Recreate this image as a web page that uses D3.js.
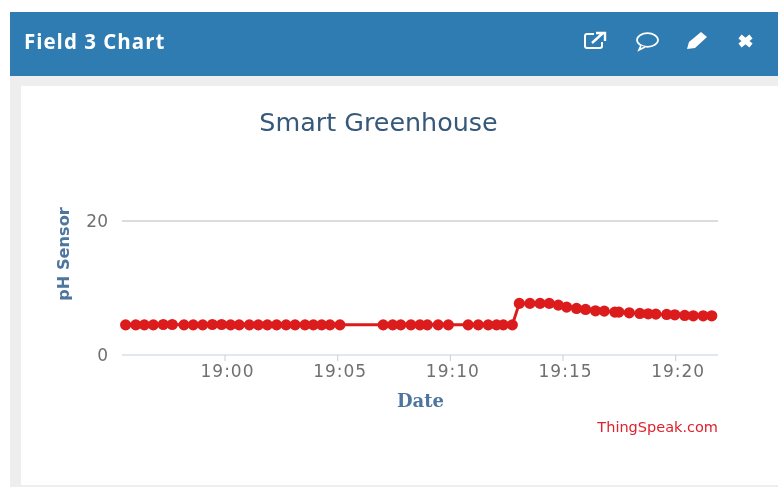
<!DOCTYPE html>
<html><head><meta charset="utf-8">
<script src="https://cdn.jsdelivr.net/npm/d3@7"></script>
<style>html,body{margin:0;padding:0;background:#fff;overflow:hidden}svg{display:block;filter:blur(0.4px)}</style>
</head><body><svg id="c" width="778" height="487"></svg>
<script>
const panelTitle = "Field 3 Chart";
const chartTitle = "Smart Greenhouse";
const xTitle = "Date";
const yTitle = "pH Sensor";
const credit = "ThingSpeak.com";
const yTicks = [0, 20];
const xTickMinutes = [0, 5, 10, 15, 20];
const xTickLabels = ["19:00", "19:05", "19:10", "19:15", "19:20"];
// minutes relative to 19:00
const minutes = [-4.41,-3.96,-3.58,-3.18,-2.74,-2.34,-1.82,-1.41,-0.99,-0.56,-0.15,0.25,0.63,1.08,1.48,1.88,2.29,2.71,3.11,3.55,3.92,4.29,4.66,5.10,
 7.02,7.44,7.8,8.25,8.65,8.98,9.46,9.91,10.79,11.24,11.68,12.05,12.35,12.75,13.06,13.53,13.98,14.39,14.79,15.16,15.6,16.0,16.44,16.83,17.3,17.48,17.94,18.41,18.78,19.12,19.6,19.96,20.4,20.78,21.22,21.6];
const ph = [4.5,4.5,4.5,4.5,4.55,4.55,4.5,4.5,4.5,4.55,4.55,4.5,4.5,4.5,4.5,4.5,4.5,4.5,4.5,4.5,4.5,4.5,4.5,4.5,
 4.5,4.5,4.5,4.5,4.5,4.5,4.5,4.5,4.5,4.5,4.5,4.5,4.5,4.5,7.7,7.7,7.7,7.7,7.45,7.15,6.95,6.8,6.6,6.55,6.4,6.4,6.3,6.2,6.15,6.1,6.05,6.0,5.9,5.85,5.85,5.85];

const svg = d3.select("#c");
const sans = "'DejaVu Sans', sans-serif";
const red = "#dc1c1c";
svg.append("rect").attr("x",10).attr("y",76).attr("width",768).attr("height",411).attr("fill","#eeeeee");
svg.append("rect").attr("x",10).attr("y",12).attr("width",768).attr("height",64).attr("fill","#2e7cb1");
svg.append("rect").attr("x",21).attr("y",86).attr("width",757).attr("height",399).attr("fill","#fff");
svg.append("text").attr("x",24).attr("y",49).attr("fill","#fff").attr("font-family","'Open Sans',sans-serif").attr("font-weight",700).attr("font-size",20.5).attr("letter-spacing",1).text(panelTitle);

const xs = d3.scaleLinear().domain([0,20]).range([225,675.7]);
const y = d3.scaleLinear().domain([0,20]).range([355,221]);

svg.append("g").selectAll("line").data(yTicks.filter(d=>d>0)).join("line")
 .attr("x1",122).attr("x2",718).attr("y1",y).attr("y2",y).attr("stroke","#b8b8b8").attr("stroke-width",1);
svg.append("line").attr("x1",122).attr("x2",718).attr("y1",355).attr("y2",355).attr("stroke","#c0d0e0");
svg.append("g").selectAll("line").data(xTickMinutes).join("line")
 .attr("x1",xs).attr("x2",xs).attr("y1",355).attr("y2",361).attr("stroke","#c0d0e0");
svg.append("g").selectAll("text").data(xTickMinutes).join("text")
 .attr("x",d=>xs(d)+2.5).attr("y",376.5).attr("text-anchor","middle").attr("font-family",sans).attr("font-size",17).attr("letter-spacing",1).attr("fill","#707070")
 .text((d,i)=>xTickLabels[i]);
svg.append("g").selectAll("text").data(yTicks).join("text")
 .attr("x",108).attr("y",d=>y(d)+6).attr("text-anchor","end").attr("font-family",sans).attr("font-size",17).attr("fill","#707070").text(d=>d);

const line = d3.line().x(d=>xs(d[0])).y(d=>y(d[1]));
const pts = minutes.map((m,i)=>[m,ph[i]]);
svg.append("path").attr("d",line(pts)).attr("fill","none").attr("stroke",red).attr("stroke-width",3);
svg.append("g").selectAll("circle").data(pts).join("circle")
 .attr("cx",d=>xs(d[0])).attr("cy",d=>y(d[1])).attr("r",5.6).attr("fill",red);

svg.append("text").attr("x",378.5).attr("y",131).attr("text-anchor","middle").attr("font-family",sans).attr("font-size",25.4).attr("fill","#36587a").text(chartTitle);
svg.append("text").attr("x",420.5).attr("y",406.5).attr("text-anchor","middle").attr("font-family","'DejaVu Serif',serif").attr("font-weight",700).attr("font-size",18).attr("fill","#4d759e").text(xTitle);
svg.append("text").attr("transform","translate(69,254) rotate(-90)").attr("text-anchor","middle").attr("font-family",sans).attr("font-weight",700).attr("font-size",16.2).attr("fill","#4d759e").text(yTitle);
svg.append("text").attr("x",718).attr("y",431.5).attr("text-anchor","end").attr("font-family",sans).attr("font-size",14.5).attr("fill","#e0202c").text(credit);

// header icons
const ic = svg.append("g").attr("fill","none").attr("stroke","#fff").attr("stroke-width",2);
ic.append("path").attr("d","M602 42v4a2 2 0 0 1-2 2h-13a2 2 0 0 1-2-2v-10a2 2 0 0 1 2-2h7");
ic.append("path").attr("d","M592 43l11-10M596 33h9v8").attr("stroke-width",2.4);
ic.append("ellipse").attr("cx",647.5).attr("cy",40).attr("rx",10.5).attr("ry",6.8).attr("stroke-width",1.7);
ic.append("path").attr("d","M641 45.5l-2 4.5 6-3").attr("stroke-width",1.7).attr("fill","#2e7cb1");
svg.append("path").attr("d","M687 49l2-7 12-10 6 5-12 11z").attr("fill","#fff");
ic.append("path").attr("d","M740 36.5l11 9M751 36.5l-11 9").attr("stroke-width",5);
</script></body></html>
